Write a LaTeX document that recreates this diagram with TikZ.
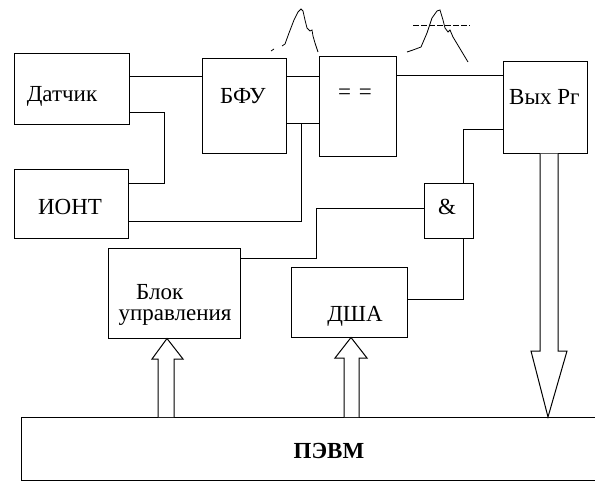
\documentclass[tikz,border=0pt]{standalone}
\usepackage{fontspec}
\setmainfont{Liberation Serif}
\begin{document}
\begin{tikzpicture}[x=1pt,y=-1pt,
  box/.style={draw,line width=1pt,inner sep=0pt},
  wire/.style={line width=1pt},
  wave/.style={line width=0.8pt},
  lbl/.style={font=\fontsize{23}{26}\selectfont,inner sep=0pt},
  fat/.style={draw,line width=1pt,fill=white,line join=miter}]
\useasboundingbox (0,0) rectangle (595,482);
% boxes
\node[box,minimum width=115pt,minimum height=71pt] (dat) at (71.5,88.5) {};
\node[box,minimum width=114pt,minimum height=69pt] (iont) at (71,203.5) {};
\node[box,minimum width=84pt,minimum height=95pt] (bfu) at (244,105.5) {};
\node[box,minimum width=77pt,minimum height=100pt] (eq) at (357.5,106) {};
\node[box,minimum width=84pt,minimum height=92pt] (out) at (545,107) {};
\node[box,minimum width=49pt,minimum height=55pt] (and) at (448.5,210.5) {};
\node[box,minimum width=132pt,minimum height=90pt] (bu) at (174,293) {};
\node[box,minimum width=116pt,minimum height=70pt] (dsha) at (349,302) {};
\coordinate (pcnw) at (21,417);
\coordinate (pcsw) at (21,480);
\draw[line width=1pt] (600,417) -- (pcnw) -- (pcsw) -- (600,480);
% labels
\node[lbl] (tdat) at (62,96) {Датчик};
\node[lbl] (tbfu) at (243,96) {БФУ};
\node[lbl] (tiont) at (70,207) {ИОНТ};
\node[lbl] (teq) at (355,94) {=\,\,=};
\node[lbl,anchor=west] (tout) at (509,97) {Вых Рг};
\node[lbl] (tand) at (447,207) {\&};
\node[lbl,anchor=west] (tbu1) at (136,292) {Блок};
\node[lbl] (tbu2) at (175,318) {управления};
\node[lbl] (tdsha) at (355,316) {ДША};
\node[lbl,font=\fontsize{23}{26}\selectfont\bfseries] (tpc) at (329,451) {ПЭВМ};
% connectors
\draw[wire] (dat.east |- 0,76) -- (bfu.west |- 0,76);
\draw[wire] (dat.east |- 0,112) -- (164,112) -- (164,183) -- (iont.east |- 0,183);
\draw[wire] (iont.east |- 0,221) -- (301,221) -- (301,123);
\draw[wire] (bfu.east |- 0,76) -- (eq.west |- 0,76);
\draw[wire] (bfu.east |- 0,123) -- (eq.west |- 0,123);
\draw[wire] (eq.east |- 0,75) -- (out.west |- 0,75);
\draw[wire] (out.west |- 0,129) -- (463,129) -- (463,0 |- and.north);
\draw[wire] (bu.east |- 0,258) -- (316,258) -- (316,208) -- (and.west |- 0,208);
\draw[wire] (dsha.east |- 0,299) -- (463,299) -- (463,0 |- and.south);
% fat arrows
\draw[fat] (540,0 |- out.south) -- (540,351) -- (531,351) -- (548,417) -- (567,351) -- (558,351) -- (558,0 |- out.south);
\draw[fat] (158,417) -- (158,359) -- (152,359) -- (167,0 |- bu.south) -- (183,359) -- (174,359) -- (174,417);
\draw[fat] (344,417) -- (344,358) -- (335,358) -- (351,0 |- dsha.south) -- (367,358) -- (359,358) -- (359,417);
% waveforms
\draw[wave] (271,51) -- (274,49);
\draw[wave] (282,46) -- (285,44) -- (289,33) -- (294,20) -- (298,12) -- (301,9) -- (303,11) -- (305,20) -- (307,28) -- (310,31) -- (312,30) -- (313,36) -- (315,43) -- (318,52);
\draw[wave] (407,52) -- (413,50) -- (421,47) -- (427,33) -- (432,18) -- (437,11) -- (440,10) -- (443,20) -- (445,28) -- (448,32) -- (450,30) -- (453,37) -- (468,62);
\draw[wave,dash pattern=on 6pt off 2pt] (413,25) -- (470,25);
\end{tikzpicture}
\end{document}
